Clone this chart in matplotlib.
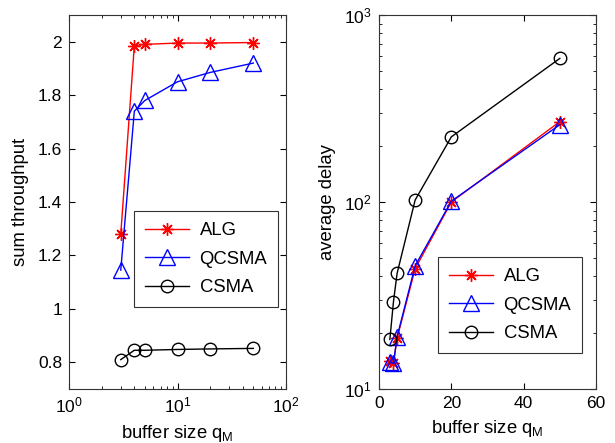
import matplotlib
matplotlib.use("Agg")
import matplotlib.pyplot as plt
from matplotlib.ticker import FixedLocator

plt.rcParams['font.family'] = ['Liberation Sans', 'DejaVu Sans']

x = [3, 4, 5, 10, 20, 50]
series_names = ["ALG", "QCSMA", "CSMA"]
thr_alg = [1.28, 1.985, 1.99, 1.995, 1.995, 1.997]
thr_qcsma = [1.145, 1.74, 1.78, 1.85, 1.885, 1.92]
thr_csma = [0.81, 0.845, 0.845, 0.848, 0.85, 0.852]
delay_alg = [14.1, 13.8, 18.7, 44, 100, 269]
delay_qcsma = [13.9, 13.7, 19.0, 45.6, 101, 259]
delay_csma = [18.4, 29.3, 41.5, 102.5, 223, 586]

styles = [dict(color='red', marker=(8, 2, 0), markersize=9),
          dict(color='blue', marker='^', markersize=11, markerfacecolor='none'),
          dict(color='black', marker='o', markersize=9, markerfacecolor='none')]

fig = plt.figure(figsize=(6.15, 4.43), dpi=100)
W, H = 615, 443
ax1 = fig.add_axes([69 / W, 1 - 389 / H, (286 - 69) / W, (389 - 15) / H])
ax2 = fig.add_axes([379 / W, 1 - 389 / H, (596 - 379) / W, (389 - 15) / H])

for ys, st, nm in zip([thr_alg, thr_qcsma, thr_csma], styles, series_names):
    ax1.plot(x, ys, linewidth=1, markeredgewidth=1, label=nm, **st)
ax1.set_xscale('log')
ax1.set_xlim(1, 100)
ax1.set_ylim(0.7, 2.1)
ax1.yaxis.set_major_locator(FixedLocator([0.8, 1, 1.2, 1.4, 1.6, 1.8, 2]))
ax1.set_yticklabels(['0.8', '1', '1.2', '1.4', '1.6', '1.8', '2'])
ax1.set_ylabel('sum throughput', fontsize=13.3, labelpad=6)
ax1.set_xlabel('buffer size q$_\\mathregular{M}$', fontsize=13.3, labelpad=5)

for ys, st, nm in zip([delay_alg, delay_qcsma, delay_csma], styles, series_names):
    ax2.plot(x, ys, linewidth=1, markeredgewidth=1, label=nm, **st)
ax2.set_yscale('log')
ax2.set_xlim(0, 60)
ax2.set_ylim(10, 1000)
ax2.xaxis.set_major_locator(FixedLocator([0, 20, 40, 60]))
ax2.set_ylabel('average delay', fontsize=13.3, labelpad=6)
ax2.set_xlabel('buffer size q$_\\mathregular{M}$', fontsize=13.3, labelpad=5)

for ax in (ax1, ax2):
    ax.tick_params(which='both', direction='in', top=True, right=True, labelsize=12.5)
    ax.tick_params(which='major', length=4, pad=5)
    ax.tick_params(which='minor', length=2)
    for s in ax.spines.values():
        s.set_linewidth(0.8)
        s.set_color('#333333')

leg_kw = dict(loc='upper left', fontsize=13.3, fancybox=False, edgecolor='#333333',
              framealpha=1, handlelength=2.4, borderpad=0.6, labelspacing=0.62,
              handletextpad=0.55, borderaxespad=0)
leg1 = ax1.legend(bbox_to_anchor=((134 - 69) / 217, 1 - (211 - 15) / 374), **leg_kw)
leg2 = ax2.legend(bbox_to_anchor=((438 - 379) / 217, 1 - (257 - 15) / 374), **leg_kw)
for l in (leg1, leg2):
    l.get_frame().set_linewidth(0.8)

fig.savefig('out.png', dpi=100)
